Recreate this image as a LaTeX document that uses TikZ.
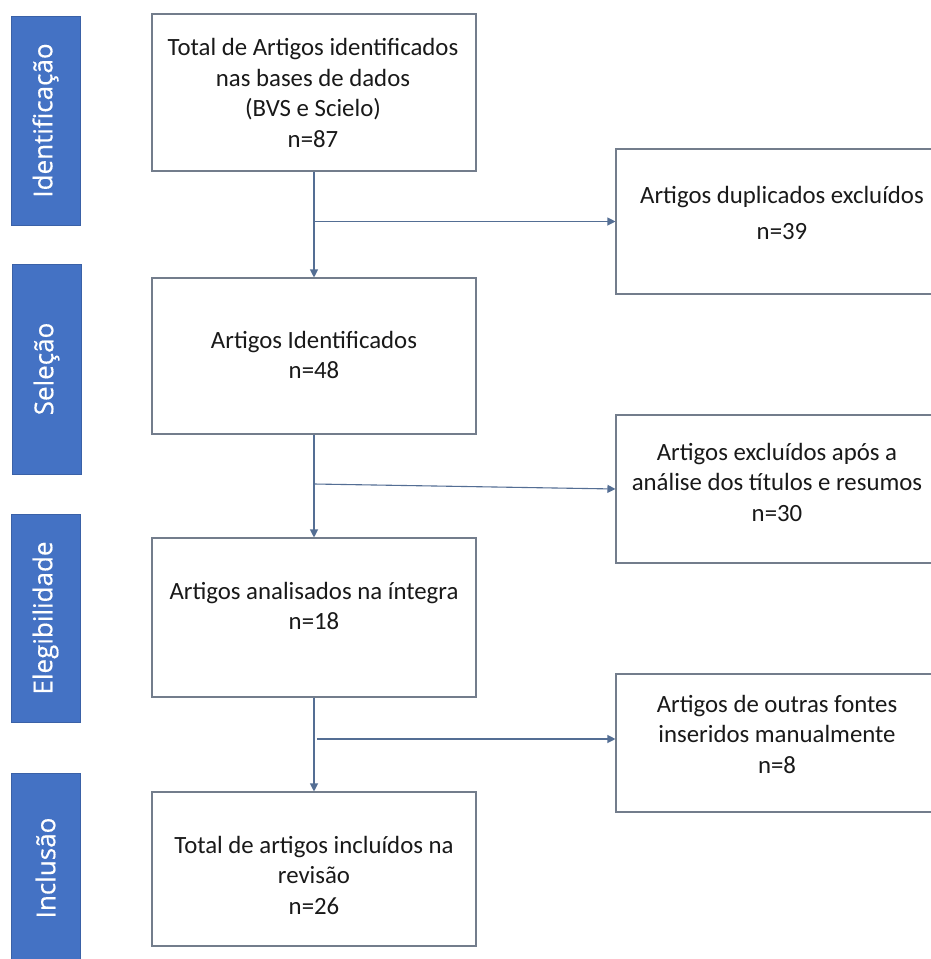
\documentclass[tikz,border=0pt]{standalone}
\usepackage{fontspec}
\setmainfont{Carlito}
\newfontfamily\barfont[FakeBold=0.4]{Open Sans}
\usetikzlibrary{arrows.meta}
\definecolor{barblue}{RGB}{68,114,196}
\definecolor{linecol}{RGB}{84,110,148}
\definecolor{boxcol}{RGB}{115,125,140}
\begin{document}
\begin{tikzpicture}[x=1pt,y=-1pt,
  box/.style={draw=boxcol, line width=1.1pt, fill=white, inner sep=0pt},
  txt/.style={align=center, inner sep=0pt, text=black!90, font=\fontsize{24.8}{30.5}\selectfont},
  bar/.style={fill=barblue, draw=barblue!85!black, line width=0.6pt, rotate=90, inner sep=0pt,
              text=white, font=\barfont\fontsize{26}{30}\selectfont},
  arr/.style={draw=linecol, line width=1.1pt, -{Triangle[length=8pt,width=8pt]}},
  branch/.style={draw=linecol, line width=1.1pt, -{Triangle[length=8pt,width=8pt]}}
]
\useasboundingbox (0,0) rectangle (931,959);
\clip (0,0) rectangle (931,959);
\fill[white] (0,0) rectangle (931,959);

% stage bars
\node[bar, minimum width=209pt, minimum height=69pt] (s1) at (45.5,120.5) {Identificação};
\node[bar, minimum width=210pt, minimum height=69pt] (s2) at (46.5,369) {Seleção};
\node[bar, minimum width=208pt, minimum height=69pt] (s3) at (45.5,618) {Elegibilidade};
\node[bar, minimum width=190pt, minimum height=69pt] (s4) at (45.5,868) {Inclusão};

% main boxes
\node[box, minimum width=324pt, minimum height=157pt] (b1) at (314,92.5) {};
\node[box, minimum width=324pt, minimum height=156pt] (b2) at (314,356) {};
\node[box, minimum width=324pt, minimum height=159pt] (b3) at (314,617.5) {};
\node[box, minimum width=324pt, minimum height=154pt] (b4) at (314,869) {};

\node[txt] (t1) at (313,93) {Total de Artigos identificados\\nas bases de dados\\(BVS e Scielo)\\n=87};
\node[txt] (t2) at (314,355) {Artigos Identificados\\n=48};
\node[txt] (t3) at (314,606) {Artigos analisados na íntegra\\n=18};
\node[txt] (t4) at (314,875) {Total de artigos incluídos na\\revisão\\n=26};

% side boxes
\node[box, minimum width=332pt, minimum height=145pt] (d1) at (782,221.5) {};
\node[box, minimum width=332pt, minimum height=148pt] (e1) at (782,489) {};
\node[box, minimum width=332pt, minimum height=138pt] (o1) at (782,743) {};

\node[txt] (u1) at (782,213) {Artigos duplicados excluídos\\[6pt]n=39};
\node[txt] (u2) at (777,482) {Artigos excluídos após a\\análise dos títulos e resumos\\n=30};
\node[txt] (u3) at (777,734) {Artigos de outras fontes\\inseridos manualmente\\n=8};

% connectors
\draw[arr] (b1.south) -- (b2.north);
\draw[arr] (b2.south) -- (b3.north);
\draw[arr] (b3.south) -- (b4.north);

\coordinate (j1) at (b1.south |- d1.west);
\coordinate (j2) at (314,484);
\coordinate (j3) at (317,739);
\draw[branch] (j1) -- (d1.west);
\draw[branch] (j2) -- (e1.west);
\draw[branch] (j3) -- (o1.west |- j3);
\end{tikzpicture}
\end{document}
